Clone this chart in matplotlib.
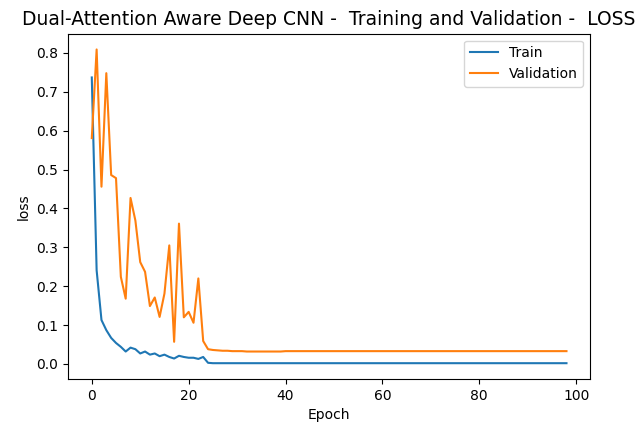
import matplotlib
matplotlib.use("Agg")
import matplotlib.pyplot as plt

# loss per epoch
train_early = [0.737, 0.241, 0.113, 0.087, 0.067, 0.054, 0.044, 0.032, 0.042, 0.038,
               0.027, 0.032, 0.024, 0.027, 0.020, 0.024, 0.018, 0.014, 0.021, 0.018,
               0.016, 0.016, 0.013, 0.018, 0.003]
val_early = [0.581, 0.809, 0.456, 0.748, 0.486, 0.478, 0.224, 0.168, 0.427, 0.369,
             0.262, 0.237, 0.149, 0.171, 0.121, 0.181, 0.305, 0.057, 0.361, 0.120,
             0.134, 0.106, 0.220, 0.059, 0.038]
n_epochs = 99
train_tail = 0.002
val_tail = [0.036, 0.035, 0.034, 0.034, 0.033, 0.033, 0.033, 0.032, 0.032, 0.032,
            0.032, 0.032, 0.032, 0.032, 0.032, 0.033]
val_plateau = 0.033

train_loss = train_early + [train_tail] * (n_epochs - len(train_early))
val_loss = val_early + val_tail
val_loss = val_loss + [val_plateau] * (n_epochs - len(val_loss))

fig = plt.figure(figsize=(6.36, 4.33), dpi=100)
ax = fig.add_axes([0.107, 0.125, 0.821, 0.797])
ax.plot(range(n_epochs), train_loss, label='Train')
ax.plot(range(n_epochs), val_loss, label='Validation')
ax.set_title('Dual-Attention Aware Deep CNN -  Training and Validation -  LOSS', fontsize=13.5)
ax.set_xlabel('Epoch')
ax.set_ylabel('loss')
ax.legend(loc='upper right')
fig.savefig('out.png', dpi=100)
